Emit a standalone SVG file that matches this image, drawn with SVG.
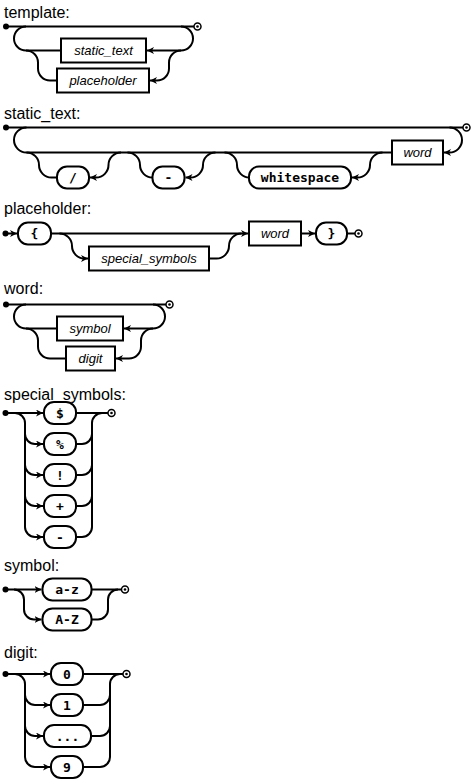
<svg xmlns="http://www.w3.org/2000/svg" width="474" height="783" viewBox="0 0 474 783">
<defs>
<style>
.ln{fill:none;stroke:#000;stroke-width:2}
.box{fill:#fff;stroke:#000;stroke-width:2}
.ttl{font-family:"Liberation Sans",Arial,sans-serif;font-size:16px;fill:#000}
.ntx{font-family:"Liberation Sans",Arial,sans-serif;font-style:italic;font-size:13px;text-anchor:middle;fill:#000}
.tx{font-family:"DejaVu Sans Mono","Liberation Mono",monospace;font-weight:bold;font-size:13px;text-anchor:middle;fill:#000}
.st{fill:#000}
.en{fill:#fff;stroke:#000;stroke-width:1.5}
</style>
<marker id="ar" markerUnits="userSpaceOnUse" markerWidth="7" markerHeight="7" viewBox="0 0 7 7" refX="7" refY="3.5" orient="auto">
<path d="M0,0 L7,3.5 L0,7 L2,3.5 z" fill="#000"/>
</marker>
</defs>
<rect width="474" height="783" fill="#fff"/>

<g id="titles" class="ttl">
<text x="4" y="17.5">template:</text>
<text x="4" y="119">static_text:</text>
<text x="4" y="213.5">placeholder:</text>
<text x="4" y="294">word:</text>
<text x="4" y="400">special_symbols:</text>
<text x="4" y="571">symbol:</text>
<text x="4" y="658">digit:</text>
</g>

<g id="connectors">
<!-- template -->
<path class="ln" d="M6 26.5 H194"/>
<path class="ln" d="M181 26.5 A12 12 0 0 1 193 38.5 A12 12 0 0 1 181 50.5 H147" marker-end="url(#ar)"/>
<path class="ln" d="M181 50.5 A12 12 0 0 0 169 62.5 V68.5 A12 12 0 0 1 157 80.5 H150" marker-end="url(#ar)"/>
<path class="ln" d="M61 50.5 H26 A12 12 0 0 1 14 38.5 A12 12 0 0 1 26 26.5"/>
<path class="ln" d="M57 80.5 H50 A12 12 0 0 1 38 68.5 V62.5 A12 12 0 0 0 26 50.5"/>
<!-- static_text -->
<path class="ln" d="M6 127.5 H463"/>
<path class="ln" d="M449.5 127.5 A12.5 12.5 0 0 1 462 140 A12.5 12.5 0 0 1 449.5 152.5 H444" marker-end="url(#ar)"/>
<path class="ln" d="M392 152.5 H26.5 A12.5 12.5 0 0 1 14 140 A12.5 12.5 0 0 1 26.5 127.5"/>
<path class="ln" d="M26.5 152.5 A12.5 12.5 0 0 1 39 165 A12.5 12.5 0 0 0 51.5 177.5 H57"/>
<path class="ln" d="M121 152.5 A12.5 12.5 0 0 0 108.5 165 A12.5 12.5 0 0 1 96 177.5 H90" marker-end="url(#ar)"/>
<path class="ln" d="M127.5 152.5 A12.5 12.5 0 0 1 140 165 A12.5 12.5 0 0 0 152.5 177.5"/>
<path class="ln" d="M215.5 152.5 A12.5 12.5 0 0 0 203 165 A12.5 12.5 0 0 1 190.5 177.5 H185.5" marker-end="url(#ar)"/>
<path class="ln" d="M224.5 152.5 A12.5 12.5 0 0 1 237 165 A12.5 12.5 0 0 0 249.5 177.5"/>
<path class="ln" d="M382.5 152.5 A12.5 12.5 0 0 0 370 165 A12.5 12.5 0 0 1 357.5 177.5 H352" marker-end="url(#ar)"/>
<!-- placeholder -->
<path class="ln" d="M5.5 233.5 H17" marker-end="url(#ar)"/>
<path class="ln" d="M51 233.5 H248" marker-end="url(#ar)"/>
<path class="ln" d="M59.5 233.5 A12.5 12.5 0 0 1 72 246 A12.5 12.5 0 0 0 84.5 258.5 H88" marker-end="url(#ar)"/>
<path class="ln" d="M209 258.5 H216.5 A12.5 12.5 0 0 0 229 246 A12.5 12.5 0 0 1 241.5 233.5"/>
<path class="ln" d="M301 233.5 H315" marker-end="url(#ar)"/>
<path class="ln" d="M347 233.5 H355"/>
<!-- word -->
<path class="ln" d="M6 304.5 H166"/>
<path class="ln" d="M153 304.5 A12 12 0 0 1 165 316.5 A12 12 0 0 1 153 328.5 H124" marker-end="url(#ar)"/>
<path class="ln" d="M153 328.5 A12 12 0 0 0 141 340.5 V346.5 A12 12 0 0 1 129 358.5 H116" marker-end="url(#ar)"/>
<path class="ln" d="M57 328.5 H26 A12 12 0 0 1 14 316.5 A12 12 0 0 1 26 304.5"/>
<path class="ln" d="M66 358.5 H50 A12 12 0 0 1 38 346.5 V340.5 A12 12 0 0 0 26 328.5"/>
<!-- special_symbols -->
<path class="ln" d="M5.5 413 H43" marker-end="url(#ar)"/>
<path class="ln" d="M76 413 H108"/>
<path class="ln" d="M15 413 A10 10 0 0 1 25 423 V527 A10 10 0 0 0 35 537 H43" marker-end="url(#ar)"/>
<path class="ln" d="M25 434 A10 10 0 0 0 35 444 H43" marker-end="url(#ar)"/>
<path class="ln" d="M25 465 A10 10 0 0 0 35 475 H43" marker-end="url(#ar)"/>
<path class="ln" d="M25 496 A10 10 0 0 0 35 506 H43" marker-end="url(#ar)"/>
<path class="ln" d="M76 537 H82 A10 10 0 0 0 92 527 V423 A10 10 0 0 1 102 413"/>
<path class="ln" d="M76 444 H82 A10 10 0 0 0 92 434"/>
<path class="ln" d="M76 475 H82 A10 10 0 0 0 92 465"/>
<path class="ln" d="M76 506 H82 A10 10 0 0 0 92 496"/>
<!-- symbol -->
<path class="ln" d="M5.5 589.5 H41.5" marker-end="url(#ar)"/>
<path class="ln" d="M91.5 589.5 H121.5"/>
<path class="ln" d="M14 589.5 A10 10 0 0 1 24 599.5 V609.5 A10 10 0 0 0 34 619.5 H41.5" marker-end="url(#ar)"/>
<path class="ln" d="M91.5 619.5 H98 A10 10 0 0 0 108 609.5 V599.5 A10 10 0 0 1 118 589.5"/>
<!-- digit -->
<path class="ln" d="M5.5 674 H50" marker-end="url(#ar)"/>
<path class="ln" d="M83 674 H123"/>
<path class="ln" d="M15 674 A10 10 0 0 1 25 684 V757 A10 10 0 0 0 35 767 H50" marker-end="url(#ar)"/>
<path class="ln" d="M25 695 A10 10 0 0 0 35 705 H50" marker-end="url(#ar)"/>
<path class="ln" d="M25 726 A10 10 0 0 0 35 736 H43" marker-end="url(#ar)"/>
<path class="ln" d="M83 767 H100 A10 10 0 0 0 110 757 V684 A10 10 0 0 1 120 674"/>
<path class="ln" d="M83 705 H100 A10 10 0 0 0 110 695"/>
<path class="ln" d="M91 736 H100 A10 10 0 0 0 110 726"/>
</g>

<g id="markers">
<circle class="st" cx="6" cy="26.5" r="3"/>
<circle class="en" cx="197.5" cy="26.5" r="3.5"/><circle class="st" cx="197.5" cy="26.5" r="1.3"/>
<circle class="st" cx="6" cy="127.5" r="3"/>
<circle class="en" cx="466.5" cy="127.5" r="3.5"/><circle class="st" cx="466.5" cy="127.5" r="1.3"/>
<circle class="st" cx="5.5" cy="233.5" r="3"/>
<circle class="en" cx="358.5" cy="233.5" r="3.5"/><circle class="st" cx="358.5" cy="233.5" r="1.3"/>
<circle class="st" cx="6" cy="304.5" r="3"/>
<circle class="en" cx="169.5" cy="304.5" r="3.5"/><circle class="st" cx="169.5" cy="304.5" r="1.3"/>
<circle class="st" cx="5.5" cy="413" r="3"/>
<circle class="en" cx="111.5" cy="413" r="3.5"/><circle class="st" cx="111.5" cy="413" r="1.3"/>
<circle class="st" cx="5.5" cy="589.5" r="3"/>
<circle class="en" cx="125" cy="589.5" r="3.5"/><circle class="st" cx="125" cy="589.5" r="1.3"/>
<circle class="st" cx="5.5" cy="674" r="3"/>
<circle class="en" cx="126.5" cy="674" r="3.5"/><circle class="st" cx="126.5" cy="674" r="1.3"/>
</g>

<!-- template nodes -->
<g id="template-static_text"><rect class="box" x="61" y="38.5" width="85" height="24"/><text class="ntx" x="103.5" y="55">static_text</text></g>
<g id="template-placeholder"><rect class="box" x="57" y="68.5" width="92" height="24"/><text class="ntx" x="103" y="85">placeholder</text></g>
<!-- static_text nodes -->
<g id="static_text-word"><rect class="box" x="392" y="140.5" width="51" height="24"/><text class="ntx" x="417.5" y="157">word</text></g>
<g id="static_text-slash"><rect class="box" x="57" y="166.5" width="32" height="22" rx="10"/><text class="tx" x="73" y="182">/</text></g>
<g id="static_text-dash"><rect class="box" x="152.5" y="166.5" width="32" height="22" rx="10"/><text class="tx" x="168.5" y="182">-</text></g>
<g id="static_text-whitespace"><rect class="box" x="249" y="166.5" width="102" height="22" rx="10"/><text class="tx" x="300" y="182">whitespace</text></g>
<!-- placeholder nodes -->
<g id="placeholder-open"><rect class="box" x="18" y="222.5" width="33" height="22" rx="10"/><text class="tx" x="34.5" y="238">{</text></g>
<g id="placeholder-special_symbols"><rect class="box" x="89" y="246.5" width="120" height="24"/><text class="ntx" x="149" y="263">special_symbols</text></g>
<g id="placeholder-word"><rect class="box" x="249" y="221.5" width="52" height="24"/><text class="ntx" x="275" y="238">word</text></g>
<g id="placeholder-close"><rect class="box" x="316" y="222.5" width="31" height="22" rx="10"/><text class="tx" x="331.5" y="238">}</text></g>
<!-- word nodes -->
<g id="word-symbol"><rect class="box" x="57" y="316.5" width="66" height="24"/><text class="ntx" x="90" y="333">symbol</text></g>
<g id="word-digit"><rect class="box" x="66" y="346.5" width="49" height="24"/><text class="ntx" x="90.5" y="363">digit</text></g>
<!-- special_symbols nodes -->
<g id="ss-dollar"><rect class="box" x="44" y="402" width="32" height="22" rx="10"/><text class="tx" x="60" y="417.5">$</text></g>
<g id="ss-percent"><rect class="box" x="44" y="433" width="32" height="22" rx="10"/><text class="tx" x="60" y="448.5">%</text></g>
<g id="ss-excl"><rect class="box" x="44" y="464" width="32" height="22" rx="10"/><text class="tx" x="60" y="479.5">!</text></g>
<g id="ss-plus"><rect class="box" x="44" y="495" width="32" height="22" rx="10"/><text class="tx" x="60" y="510.5">+</text></g>
<g id="ss-minus"><rect class="box" x="44" y="526" width="32" height="22" rx="10"/><text class="tx" x="60" y="541.5">-</text></g>
<!-- symbol nodes -->
<g id="symbol-lower"><rect class="box" x="42.5" y="578.5" width="49" height="22" rx="10"/><text class="tx" x="67" y="594">a-z</text></g>
<g id="symbol-upper"><rect class="box" x="42.5" y="608.5" width="49" height="22" rx="10"/><text class="tx" x="67" y="624">A-Z</text></g>
<!-- digit nodes -->
<g id="digit-0"><rect class="box" x="51" y="663" width="32" height="22" rx="10"/><text class="tx" x="67" y="678.5">0</text></g>
<g id="digit-1"><rect class="box" x="51" y="694" width="32" height="22" rx="10"/><text class="tx" x="67" y="709.5">1</text></g>
<g id="digit-ellipsis"><rect class="box" x="44" y="725" width="47" height="22" rx="10"/><text class="tx" x="67.5" y="740.5">...</text></g>
<g id="digit-9"><rect class="box" x="51" y="756" width="32" height="22" rx="10"/><text class="tx" x="67" y="771.5">9</text></g>
</svg>
